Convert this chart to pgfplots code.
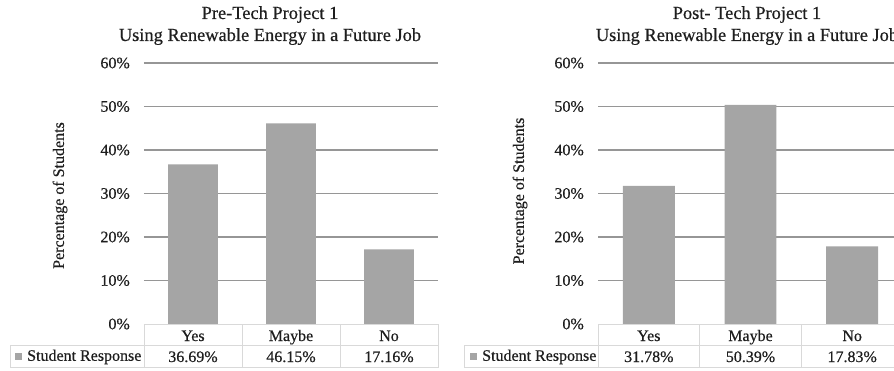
\documentclass[border=0pt]{standalone}
\usepackage{pgfplots}
\pgfplotsset{compat=1.18}
\usepackage{fontspec}
\setmainfont{Liberation Serif}[FakeBold=0.5]
\definecolor{barcol}{RGB}{165,165,165}
\definecolor{gridcol}{RGB}{150,150,150}
\definecolor{tabcol}{RGB}{217,217,217}
\definecolor{txtcol}{RGB}{30,30,30}
\pgfplotsset{
  panel/.style={
    scale only axis, height=261pt,
    ymin=0, ymax=60, xmin=-0.5, xmax=2.5,
    ybar, bar width=0.51,
    axis line style={draw=none},
    major tick length=0pt,
    ytick={10,20,30,40,50,60},
    yticklabels={10\%,20\%,30\%,40\%,50\%,60\%},
    extra y ticks={0}, extra y tick labels={0\%},
    extra y tick style={grid=none},
    ymajorgrids,
    major grid style={draw=gridcol, line width=1.2pt},
    xtick={0,1,2}, xticklabels={Yes,Maybe,No},
    tick label style={font=\fontsize{16}{19}\selectfont, text=txtcol},
    yticklabel style={inner sep=0pt, xshift=-14pt},
    xticklabel style={anchor=base, inner sep=0pt, yshift=-17pt},
    title style={anchor=north, align=center, inner sep=0pt,
      font=\fontsize{18.4}{22}\selectfont, text=txtcol},
    ylabel style={anchor=center, inner sep=0pt,
      font=\fontsize{16}{19}\selectfont, text=txtcol},
    legend style={anchor=west, draw=none, fill=none, inner sep=0pt,
      font=\fontsize{16}{19}\selectfont, text=txtcol,
      nodes={inner sep=0pt},
      /tikz/every odd column/.append style={column sep=5pt}},
    clip=false,
  },
}
\tikzset{
  valnode/.style={anchor=base, inner sep=0pt, yshift=-38pt,
      font=\fontsize{16}{19}\selectfont, text=txtcol},
  tabline/.style={draw=tabcol, line width=0.8pt},
}
\begin{document}
\begin{tikzpicture}
\useasboundingbox (0pt,0pt) rectangle (894pt,-370pt);
\clip (0pt,0pt) rectangle (894pt,-370pt);
% ---------------- Left panel ----------------
\begin{axis}[panel, width=294pt,
  at={(144pt,-324pt)}, anchor=south west,
  title={Pre-Tech Project 1\\Using Renewable Energy in a Future Job},
  title style={at={(axis description cs:0.4286,1.1954)}},
  ylabel={Percentage of Students},
  ylabel style={at={(axis description cs:-0.2857,0.4923)}},
  legend style={at={(axis description cs:-0.4388,-0.1226)}},
]
\addplot[fill=barcol, draw=none,
  legend image code/.code={\fill[barcol] (0pt,-3.5pt) rectangle (7pt,3.5pt);}]
  coordinates {(0,36.69) (1,46.15) (2,17.16)};
\addlegendentry{Student Response}
% data table
\draw[tabline] (axis cs:-0.5,0) -- (axis cs:2.5,0);
\draw[tabline] ([yshift=-21pt]axis cs:-1.867,0) -- ([yshift=-21pt]axis cs:2.5,0);
\draw[tabline] ([yshift=-43.5pt]axis cs:-1.867,0) -- ([yshift=-43.5pt]axis cs:2.5,0);
\draw[tabline] ([yshift=-21pt]axis cs:-1.867,0) -- ([yshift=-43.5pt]axis cs:-1.867,0);
\draw[tabline] (axis cs:-0.5,0) -- ([yshift=-43.5pt]axis cs:-0.5,0);
\draw[tabline] (axis cs:0.5,0) -- ([yshift=-43.5pt]axis cs:0.5,0);
\draw[tabline] (axis cs:1.5,0) -- ([yshift=-43.5pt]axis cs:1.5,0);
\draw[tabline] (axis cs:2.5,0) -- ([yshift=-43.5pt]axis cs:2.5,0);
\node[valnode] at (axis cs:0,0) {36.69\%};
\node[valnode] at (axis cs:1,0) {46.15\%};
\node[valnode] at (axis cs:2,0) {17.16\%};
\end{axis}
% ---------------- Right panel ----------------
\begin{axis}[panel, width=305pt,
  at={(598pt,-324pt)}, anchor=south west,
  title={Post- Tech Project 1\\Using Renewable Energy in a Future Job},
  title style={at={(axis description cs:0.4885,1.1954)}},
  ylabel={Percentage of Students},
  ylabel style={at={(axis description cs:-0.2557,0.5096)}},
  legend style={at={(axis description cs:-0.4197,-0.1226)}},
]
\addplot[fill=barcol, draw=none,
  legend image code/.code={\fill[barcol] (0pt,-3.5pt) rectangle (7pt,3.5pt);}]
  coordinates {(0,31.78) (1,50.39) (2,17.83)};
\addlegendentry{Student Response}
\draw[tabline] (axis cs:-0.5,0) -- (axis cs:2.5,0);
\draw[tabline] ([yshift=-21pt]axis cs:-1.8176,0) -- ([yshift=-21pt]axis cs:2.5,0);
\draw[tabline] ([yshift=-43.5pt]axis cs:-1.8176,0) -- ([yshift=-43.5pt]axis cs:2.5,0);
\draw[tabline] ([yshift=-21pt]axis cs:-1.8176,0) -- ([yshift=-43.5pt]axis cs:-1.8176,0);
\draw[tabline] (axis cs:-0.5,0) -- ([yshift=-43.5pt]axis cs:-0.5,0);
\draw[tabline] (axis cs:0.5,0) -- ([yshift=-43.5pt]axis cs:0.5,0);
\draw[tabline] (axis cs:1.5,0) -- ([yshift=-43.5pt]axis cs:1.5,0);
\draw[tabline] (axis cs:2.5,0) -- ([yshift=-43.5pt]axis cs:2.5,0);
\node[valnode] at (axis cs:0,0) {31.78\%};
\node[valnode] at (axis cs:1,0) {50.39\%};
\node[valnode] at (axis cs:2,0) {17.83\%};
\end{axis}
\end{tikzpicture}
\end{document}
